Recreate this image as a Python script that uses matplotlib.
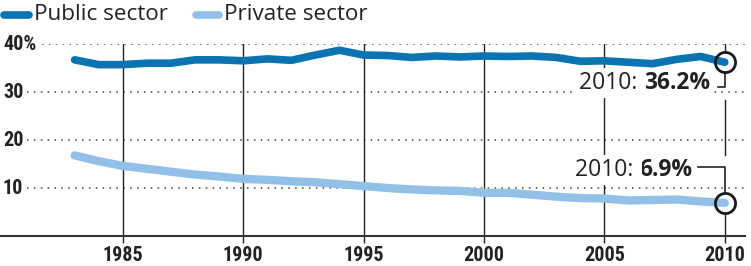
import matplotlib
matplotlib.use("Agg")
import matplotlib.pyplot as plt

years = list(range(1983, 2011))
public = [36.7, 35.7, 35.7, 36.0, 36.0, 36.7, 36.7, 36.5, 36.9, 36.6,
          37.7, 38.7, 37.7, 37.6, 37.2, 37.5, 37.3, 37.5, 37.4, 37.5,
          37.2, 36.4, 36.5, 36.2, 35.9, 36.8, 37.4, 36.2]
private = [16.8, 15.6, 14.6, 14.0, 13.4, 12.8, 12.4, 11.9, 11.7, 11.4,
           11.2, 10.8, 10.4, 10.0, 9.7, 9.5, 9.4, 9.0, 9.0, 8.6,
           8.2, 7.9, 7.8, 7.4, 7.5, 7.6, 7.2, 6.9]
xticks = [1985, 1990, 1995, 2000, 2005, 2010]
yticks = [10, 20, 30, 40]
ytick_labels = ["10", "20", "30", "40%"]
series_names = ["Public sector", "Private sector"]

c_pub = "#0a73b2"
c_priv = "#93c0e6"
ink = "#222222"

cond = ["Liberation Sans Narrow", "Roboto Condensed", "DejaVu Sans"]
sans = ["Open Sans", "DejaVu Sans"]

fig = plt.figure(figsize=(7.51, 2.66), dpi=100)
ax = fig.add_axes([0, 30 / 266, 745 / 751, 192 / 266])
ax.set_xlim(1979.9, 2010.84)
ax.set_ylim(0, 40)
for s in ["top", "right", "left"]:
    ax.spines[s].set_visible(False)
ax.spines["bottom"].set_color("#333333")
ax.spines["bottom"].set_linewidth(1.5)

# grid
for y, lab in zip(yticks, ytick_labels):
    start = 0.056 if lab.endswith("%") else 0.036
    ax.axhline(y, xmin=start, color="#444444", lw=1.1, ls=(0, (1, 3.5)), zorder=1)
    ax.text(3 / 745, y, lab, transform=ax.get_yaxis_transform(), ha="left",
            va="center", fontsize=14.5, fontweight="bold", family=cond, color=ink)
for x in xticks[:-1]:
    ax.axvline(x, color="#222222", lw=1, zorder=1)

ax.set_yticks([])
ax.set_xticks(xticks)
ax.set_xticklabels([str(x) for x in xticks], fontsize=14.5, fontweight="bold",
                   family=cond, color=ink)
ax.tick_params(axis="x", length=5, width=1, color="#222222", pad=2)

ax.plot(years, private, color=c_priv, lw=6, solid_capstyle="round", zorder=3)
ax.plot(years, public, color=c_pub, lw=5.5, solid_capstyle="round", zorder=3)

# 2010 callouts
x_end = years[-1]
r = 2.1
seg = dict(color="#222222", lw=1, zorder=2)
ax.plot([x_end, x_end], [40, public[-1] + r], **seg)
ax.plot([x_end, x_end, x_end - 0.3], [public[-1] - r, 31.0, 31.0], color="#222222", lw=1.2, zorder=5)
ax.plot([x_end, x_end], [28.3, 16.9], **seg)
ax.plot([x_end - 1.12, x_end, x_end], [14.4, 14.4, private[-1] + r], color="#222222", lw=1.2, zorder=5)
ax.plot([x_end, x_end], [private[-1] - r, 0], **seg)
for v in (public[-1], private[-1]):
    ax.plot(x_end, v, "o", ms=14.5, mfc="none", mec="#1a1a1a", mew=2, zorder=6)

box = dict(facecolor="white", edgecolor="none", pad=2)
b1 = ax.text(x_end - 0.62, 31.9, f"{public[-1]}%", ha="right", va="center",
             fontsize=16.5, fontweight="bold", family=sans, color=ink, bbox=box, zorder=4)
ax.annotate("2010: ", xy=(0, 0.5), xycoords=b1, ha="right", va="center",
            fontsize=16.5, family=sans, color=ink, bbox=box, zorder=4)
b2 = ax.text(x_end - 1.33, 13.8, f"{private[-1]}%", ha="right", va="center",
             fontsize=16.5, fontweight="bold", family=sans, color=ink, bbox=box, zorder=4)
ax.annotate("2010: ", xy=(0, 0.5), xycoords=b2, ha="right", va="center",
            fontsize=16.5, family=sans, color=ink, bbox=box, zorder=4)

# legend
for xs, name, col in [((4, 29), series_names[0], c_pub), ((196, 219), series_names[1], c_priv)]:
    fig.add_artist(plt.Line2D([xs[0] / 751, xs[1] / 751], [1 - 15 / 266] * 2,
                              color=col, lw=5.5, solid_capstyle="round"))
    fig.text((xs[1] + 5) / 751, 1 - 15 / 266, name, ha="left", va="center",
             fontsize=16.2, family=sans, color=ink)

fig.savefig("out.png", dpi=100)
